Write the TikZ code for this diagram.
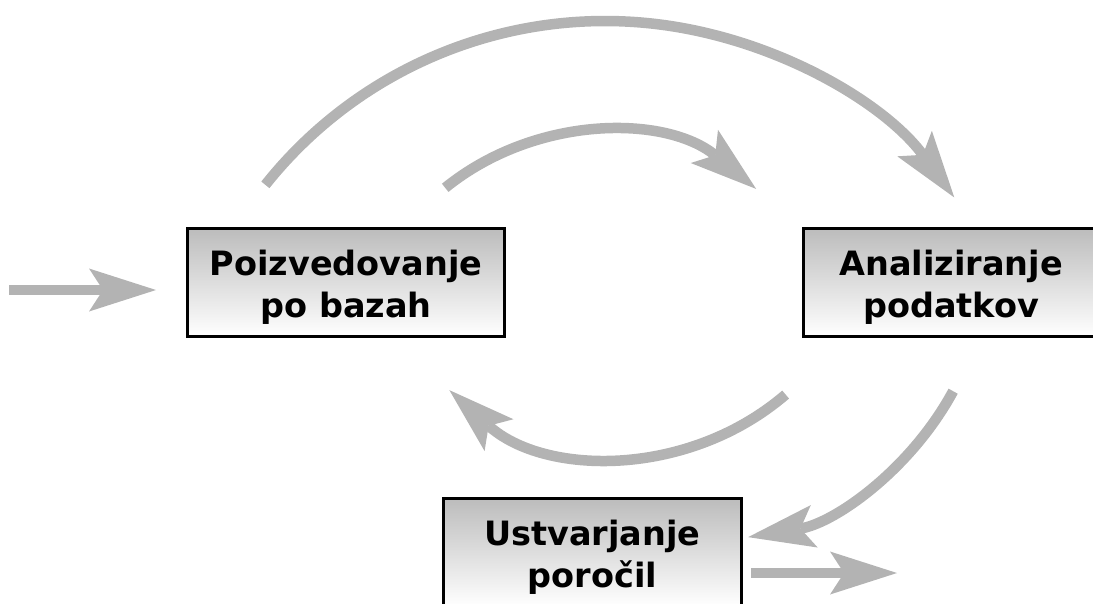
\documentclass[tikz,border=0pt]{standalone}
\usepackage{fontspec}
\setmainfont{DejaVu Sans}
\usetikzlibrary{arrows.meta,calc}
\definecolor{flow}{RGB}{179,179,179}
\definecolor{boxtop}{RGB}{188,188,188}
\begin{document}
\begin{tikzpicture}[x=1pt,y=1pt,
  stepbox/.style={draw=black, line width=3pt, top color=boxtop, bottom color=white,
    inner sep=0pt, align=center, font=\bfseries\fontsize{33.5}{42}\selectfont},
  flowarrow/.style={draw=flow, line width=10.5pt,
    -{Stealth[length=67pt,width=43pt,inset=14pt,line width=0pt]}},
]
\useasboundingbox (0,0) rectangle (1093,-603);
\clip (0,0) rectangle (1093,-603);

% process boxes
\node[stepbox, minimum width=317pt, minimum height=108pt] (query) at (346,-282.5)
  {\rule{0pt}{35pt}Poizvedovanje\\po bazah};
\node[stepbox, minimum width=295pt, minimum height=108pt] (analyse) at (951,-282.5)
  {\rule{0pt}{35pt}Analiziranje\\podatkov};
\node[stepbox, minimum width=298pt, minimum height=108pt] (report) at (592.5,-552.5)
  {\rule{0pt}{35pt}Ustvarjanje\\poročil};

% straight input and output arrows
\coordinate (inS) at ($(query.west)+(-177,-7.5)$);
\coordinate (inE) at ($(query.west)+(-30,-7.5)$);
\draw[flowarrow] (inS) -- (inE);
\coordinate (outS) at ($(report.east)+(8,-20.5)$);
\coordinate (outE) at ($(report.east)+(154,-20.5)$);
\draw[flowarrow] (outS) -- (outE);

% outer loop: query -> analyse
\coordinate (bigC) at (605,-455);
\draw[flowarrow] ($(bigC)+(141.5:434)$) arc[start angle=141.5, end angle=36.4, radius=434];

% inner loop: query -> analyse
\coordinate (innerC) at (600,-379);
\draw[flowarrow] ($(innerC)+(129:246)$) arc[start angle=129, end angle=50.6, radius=246];

% feedback: analyse -> query
\coordinate (backC) at (620,-202);
\draw[flowarrow] ($(backC)+(-49.3:254)$) arc[start angle=-49.3, end angle=-132.2, radius=254];

% analyse -> report
\coordinate (repC) at (702,-255.4);
\draw[flowarrow] ($(repC)+(-28.4:285.5)$) arc[start angle=-28.4, end angle=-80.7, radius=285.5];
\end{tikzpicture}
\end{document}
